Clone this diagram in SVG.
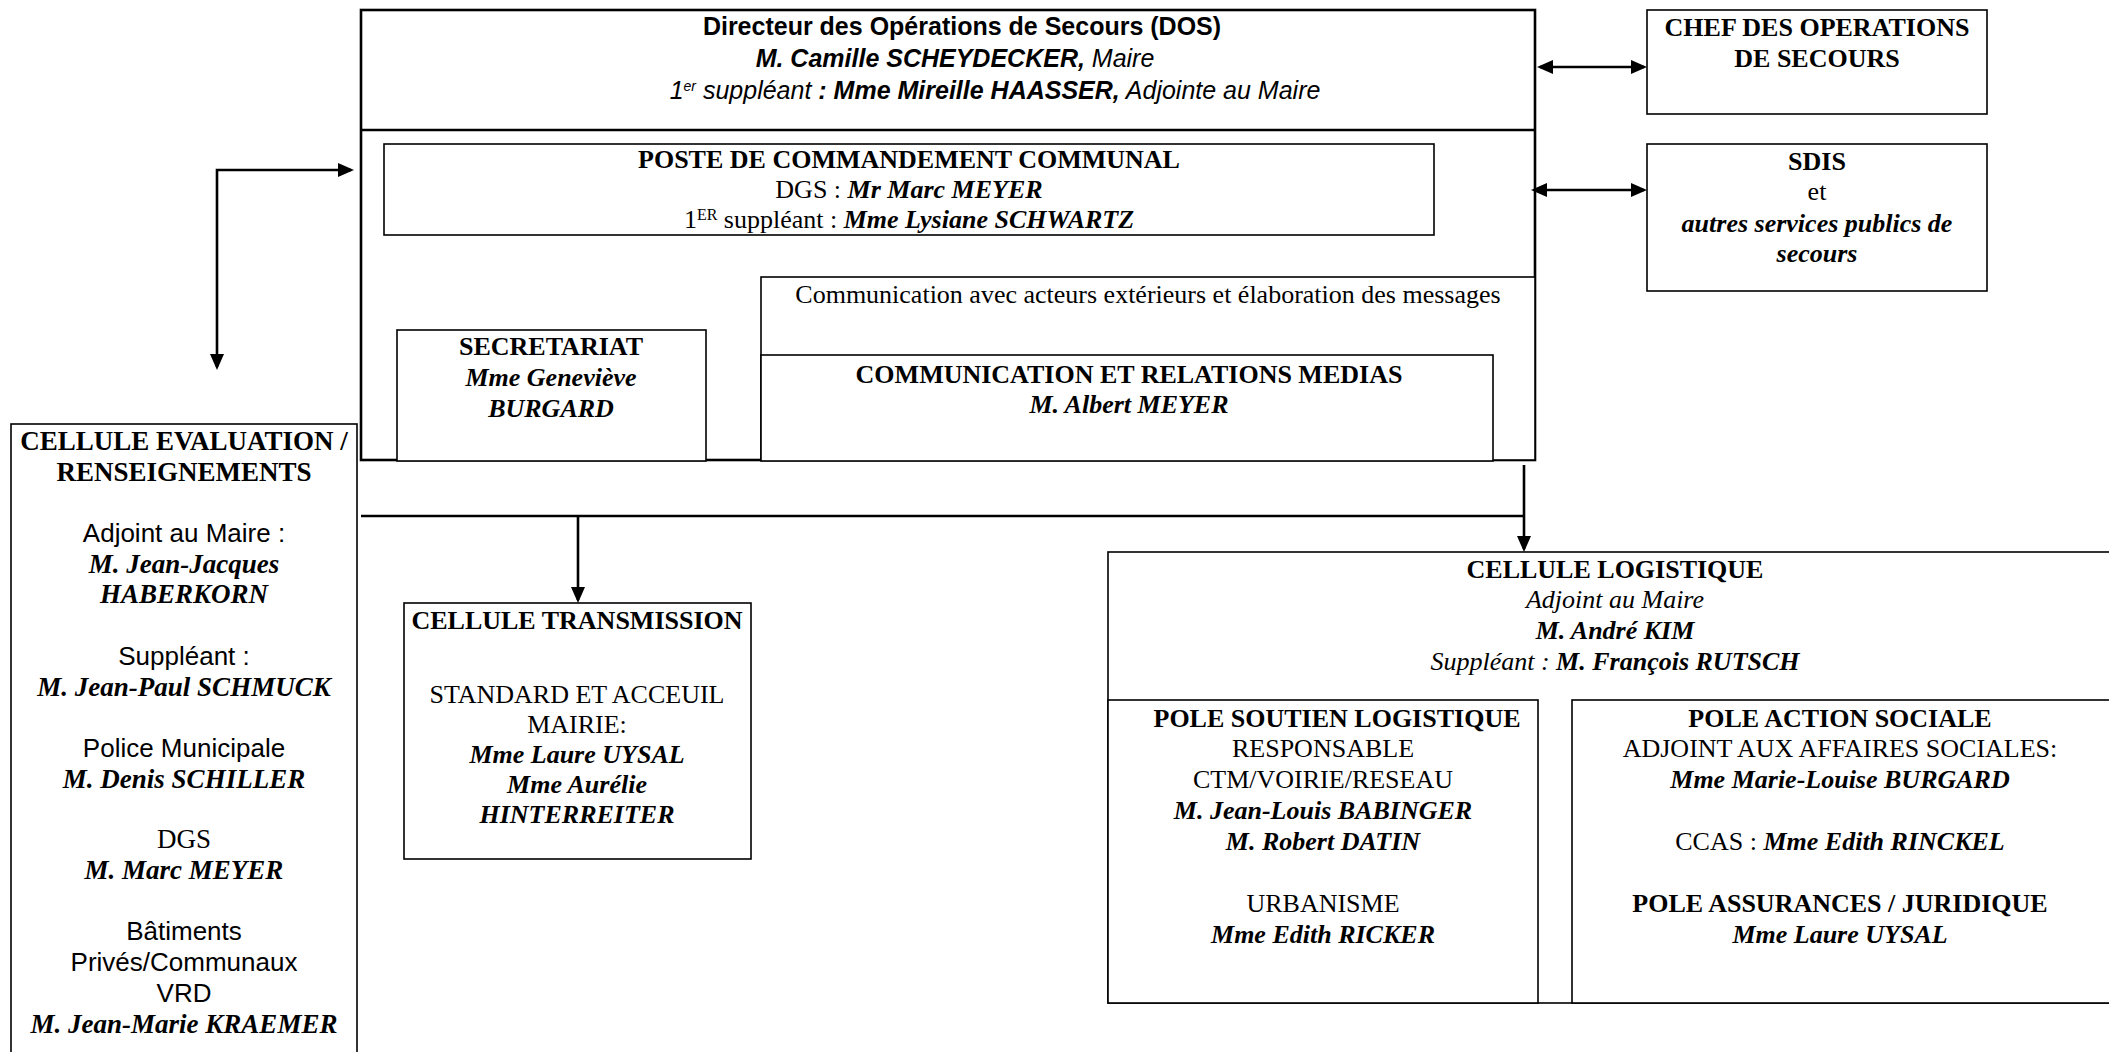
<svg xmlns="http://www.w3.org/2000/svg" width="2109" height="1052" viewBox="0 0 2109 1052">
<style>
.box{fill:#fff;stroke:#000;stroke-width:1.6}
.main{fill:#fff;stroke:#000;stroke-width:2.6}
.ln{fill:none;stroke:#000;stroke-width:2.6}
text{fill:#000;text-anchor:middle}
.a{font-family:"Liberation Sans",Arial,sans-serif;font-size:25px}
.t{font-family:"Liberation Serif","Times New Roman",serif;font-size:26px}
.te{font-family:"Liberation Serif","Times New Roman",serif;font-size:27px}
.ae{font-family:"Liberation Sans",Arial,sans-serif;font-size:26px}
.b{font-weight:bold}
.i{font-style:italic}
.bi{font-weight:bold;font-style:italic}
</style>
<defs>
<marker id="ah" viewBox="0 0 16 14" refX="13" refY="7" markerWidth="16" markerHeight="14" orient="auto-start-reverse" markerUnits="userSpaceOnUse">
<path d="M0,0 L16,7 L0,14 Z" fill="#000"/>
</marker>
</defs>
<rect width="2109" height="1052" fill="#fff"/>

<g id="dos">
<rect class="main" x="361" y="10" width="1174" height="450"/>
<line class="ln" x1="361" y1="130" x2="1535" y2="130"/>
<text class="a b" x="962" y="35">Directeur des Opérations de Secours (DOS)</text>
<text class="a bi" x="955" y="67" font-size="25.5">M. Camille SCHEYDECKER,<tspan class="i" font-weight="normal"> Maire</tspan></text>
<text class="a i" x="995" y="99" font-size="22">1<tspan font-size="14" baseline-shift="super">er</tspan> suppléant <tspan class="bi">: Mme Mireille HAASSER,</tspan> Adjointe au Maire</text>
</g>

<g id="pcc">
<rect class="box" x="384" y="144" width="1050" height="91"/>
<text class="t b" x="909" y="168">POSTE DE COMMANDEMENT COMMUNAL</text>
<text class="t" x="909" y="198">DGS : <tspan class="bi">Mr Marc MEYER</tspan></text>
<text class="t" x="909" y="228">1<tspan font-size="16" baseline-shift="super">ER</tspan> suppléant : <tspan class="bi">Mme Lysiane SCHWARTZ</tspan></text>
</g>

<g id="communication">
<rect class="box" x="761" y="277" width="774" height="183"/>
<text class="t" x="1148" y="303">Communication avec acteurs extérieurs et élaboration des messages</text>
</g>

<g id="secretariat">
<rect class="box" x="397" y="330" width="309" height="131"/>
<text class="t b" x="551" y="355">SECRETARIAT</text>
<text class="t bi" x="551" y="386">Mme Geneviève</text>
<text class="t bi" x="551" y="417">BURGARD</text>
</g>

<g id="medias">
<rect class="box" x="761" y="355" width="732" height="106"/>
<text class="t b" x="1129" y="383">COMMUNICATION ET RELATIONS MEDIAS</text>
<text class="t bi" x="1129" y="413">M. Albert MEYER</text>
</g>

<g id="chef">
<rect class="box" x="1647" y="10" width="340" height="104"/>
<text class="t b" x="1817" y="36">CHEF DES OPERATIONS</text>
<text class="t b" x="1817" y="67">DE SECOURS</text>
</g>

<g id="sdis">
<rect class="box" x="1647" y="144" width="340" height="147"/>
<text class="t b" x="1817" y="170">SDIS</text>
<text class="t" x="1817" y="200">et</text>
<text class="t bi" x="1817" y="232">autres services publics de</text>
<text class="t bi" x="1817" y="262">secours</text>
</g>

<g id="evaluation">
<rect class="box" x="11" y="424" width="346" height="640"/>
<text class="te b" x="184" y="450">CELLULE EVALUATION /</text>
<text class="te b" x="184" y="481">RENSEIGNEMENTS</text>
<text class="ae" x="184" y="542">Adjoint au Maire :</text>
<text class="te bi" x="184" y="573">M. Jean-Jacques</text>
<text class="te bi" x="184" y="603">HABERKORN</text>
<text class="ae" x="184" y="665">Suppléant :</text>
<text class="te bi" x="184" y="696">M. Jean-Paul SCHMUCK</text>
<text class="ae" x="184" y="757">Police Municipale</text>
<text class="te bi" x="184" y="788">M. Denis SCHILLER</text>
<text class="te" x="184" y="848">DGS</text>
<text class="te bi" x="184" y="879">M. Marc MEYER</text>
<text class="ae" x="184" y="940">Bâtiments</text>
<text class="ae" x="184" y="971">Privés/Communaux</text>
<text class="ae" x="184" y="1002">VRD</text>
<text class="te bi" x="184" y="1033">M. Jean-Marie KRAEMER</text>
</g>

<g id="transmission">
<rect class="box" x="404" y="603" width="347" height="256"/>
<text class="t b" x="577" y="629">CELLULE TRANSMISSION</text>
<text class="t" x="577" y="703">STANDARD ET ACCEUIL</text>
<text class="t" x="577" y="733">MAIRIE:</text>
<text class="t bi" x="577" y="763">Mme Laure UYSAL</text>
<text class="t bi" x="577" y="793">Mme Aurélie</text>
<text class="t bi" x="577" y="823">HINTERREITER</text>
</g>

<g id="logistique">
<rect class="box" x="1108" y="552" width="1014" height="451"/>
<text class="t b" x="1615" y="578">CELLULE LOGISTIQUE</text>
<text class="t i" x="1615" y="608">Adjoint au Maire</text>
<text class="t bi" x="1615" y="639">M. André KIM</text>
<text class="t i" x="1615" y="670">Suppléant : <tspan class="bi">M. François RUTSCH</tspan></text>
</g>

<g id="pole-soutien">
<rect class="box" x="1108" y="700" width="430" height="303"/>
<text class="t b" x="1337" y="727">POLE SOUTIEN LOGISTIQUE</text>
<text class="t" x="1323" y="757">RESPONSABLE</text>
<text class="t" x="1323" y="788">CTM/VOIRIE/RESEAU</text>
<text class="t bi" x="1323" y="819">M. Jean-Louis BABINGER</text>
<text class="t bi" x="1323" y="850">M. Robert DATIN</text>
<text class="t" x="1323" y="912">URBANISME</text>
<text class="t bi" x="1323" y="943">Mme Edith RICKER</text>
</g>

<g id="pole-action">
<rect class="box" x="1572" y="700" width="550" height="303"/>
<text class="t b" x="1840" y="727">POLE ACTION SOCIALE</text>
<text class="t" x="1840" y="757">ADJOINT AUX AFFAIRES SOCIALES:</text>
<text class="t bi" x="1840" y="788">Mme Marie-Louise BURGARD</text>
<text class="t" x="1840" y="850">CCAS : <tspan class="bi">Mme Edith RINCKEL</tspan></text>
<text class="t b" x="1840" y="912">POLE ASSURANCES / JURIDIQUE</text>
<text class="t bi" x="1840" y="943">Mme Laure UYSAL</text>
</g>

<g id="connectors">
<line class="ln" x1="1540" y1="67" x2="1644" y2="67" marker-start="url(#ah)" marker-end="url(#ah)"/>
<line class="ln" x1="1534" y1="190" x2="1644" y2="190" marker-start="url(#ah)" marker-end="url(#ah)"/>
<path class="ln" d="M351,170 H217 V367" marker-start="url(#ah)" marker-end="url(#ah)"/>
<line class="ln" x1="361" y1="516" x2="1524" y2="516"/>
<line class="ln" x1="1524" y1="465" x2="1524" y2="549" marker-end="url(#ah)"/>
<line class="ln" x1="578" y1="516" x2="578" y2="600" marker-end="url(#ah)"/>
</g>
</svg>
